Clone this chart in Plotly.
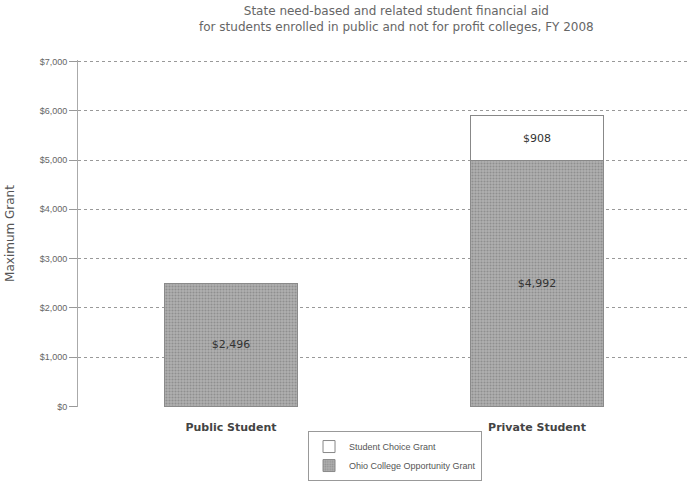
import plotly.graph_objects as go

categories = ["Public Student", "Private Student"]
ocog_values = [2496, 4992]
scg_values = [None, 908]
ocog_labels = ["$2,496", "$4,992"]
scg_labels = ["", "$908"]
tick_vals = [0, 1000, 2000, 3000, 4000, 5000, 6000, 7000]
tick_text = ["$0", "$1,000", "$2,000", "$3,000", "$4,000", "$5,000", "$6,000", "$7,000"]

FONT = "Liberation Sans, Arial, sans-serif"
WIDE = "DejaVu Sans, Verdana, sans-serif"

fig = go.Figure()
fig.add_trace(go.Bar(
    x=categories, y=ocog_values, name="Ohio College Opportunity Grant",
    text=ocog_labels, textposition="inside", insidetextanchor="middle",
    textfont=dict(size=11, color="#333", family=WIDE),
    marker=dict(color="#a8a8a8", line=dict(color="#8a8a8a", width=1),
                pattern=dict(shape=".", fgcolor="#6e6e6e", bgcolor="#b0b0b0", size=3, solidity=0.4)),
))
fig.add_trace(go.Bar(
    x=categories, y=scg_values, name="Student Choice Grant",
    text=scg_labels, textposition="inside", insidetextanchor="middle",
    textfont=dict(size=11, color="#333", family=WIDE),
    marker=dict(color="white", line=dict(color="#888", width=1)),
))

fig.update_layout(
    barmode="stack",
    bargap=0.565,
    width=693, height=482,
    margin=dict(l=78, r=3, t=60, b=75, autoexpand=False),
    paper_bgcolor="white", plot_bgcolor="white",
    font=dict(family=FONT, color="#555", size=9),
    showlegend=True,
    legend=dict(
        traceorder="reversed",
        x=0.518, xref="paper", xanchor="center",
        y=0.002, yref="container", yanchor="bottom",
        bordercolor="#999", borderwidth=1,
        font=dict(size=9, color="#555", family=FONT),
        itemwidth=30, tracegroupgap=0,
    ),
    xaxis=dict(
        showline=False, showgrid=False, ticks="outside", ticklen=10, tickcolor="rgba(0,0,0,0)",
        tickfont=dict(size=11, color="#444", family=WIDE, weight="bold"),
    ),
    yaxis=dict(
        range=[-12, 7030], tickvals=tick_vals, ticktext=tick_text,
        showgrid=True, gridcolor="#999", griddash="dot", gridwidth=1,
        showline=True, linecolor="#aaa", linewidth=1,
        ticks="outside", ticklen=8, tickcolor="#999",
        tickfont=dict(size=9, color="#666", family=FONT),
        title=dict(text="Maximum Grant", font=dict(size=12, color="#555", family=WIDE), standoff=22),
        zeroline=False,
    ),
)
fig.add_annotation(
    text="State need-based and related student financial aid<br>for students enrolled in public and not for profit colleges, FY 2008",
    xref="paper", yref="paper", x=0.52, y=1.0, yshift=58, xanchor="center", yanchor="top",
    showarrow=False, font=dict(size=12, color="#666", family=WIDE), align="center",
)

fig.write_html("out.html")
